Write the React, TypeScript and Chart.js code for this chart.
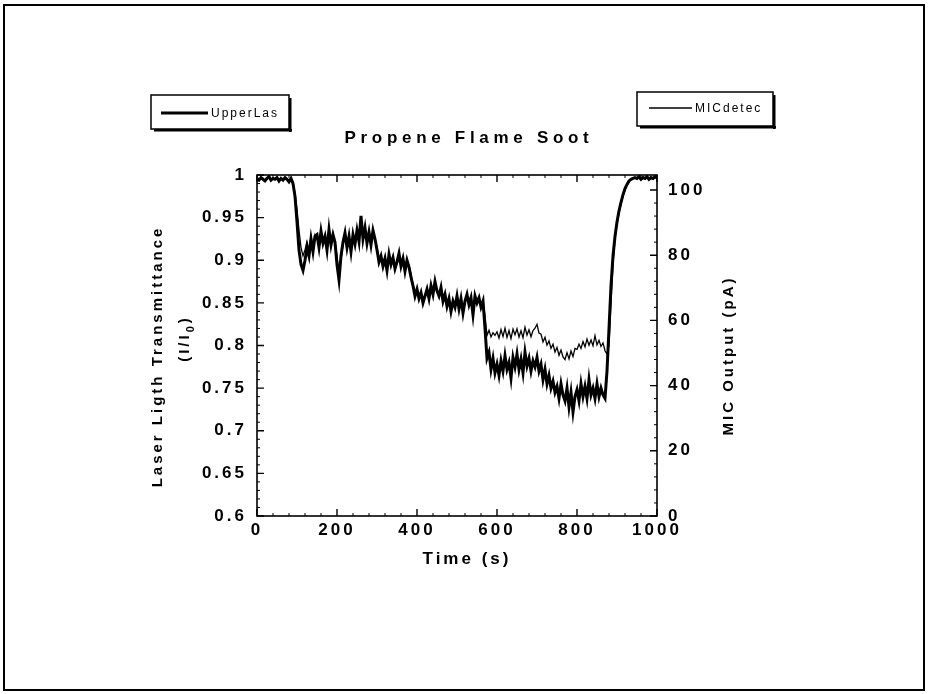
import { useEffect, useRef } from 'react';
import { Chart, registerables } from 'chart.js';

Chart.register(...registerables);

// ---------- data ----------
const SAMPLE_STEP_S = 5;

// Laser light transmittance I/I0 (left axis), one value every 5 s from 0 to 1000 s
const upperLas = [
  0.996, 0.994, 0.997, 0.995, 0.993, 0.996, 0.998, 0.994, 0.996, 0.995,
  0.997, 0.993, 0.996, 0.994, 0.997, 0.995, 0.992, 0.996, 0.990, 0.975,
  0.945, 0.912, 0.895, 0.888, 0.900, 0.915, 0.905, 0.925, 0.910, 0.928,
  0.930, 0.915, 0.934, 0.920, 0.928, 0.912, 0.936, 0.918, 0.930, 0.921,
  0.895, 0.877, 0.905, 0.921, 0.932, 0.915, 0.928, 0.910, 0.930, 0.919,
  0.935, 0.922, 0.952, 0.925, 0.938, 0.920, 0.933, 0.918, 0.935, 0.925,
  0.912, 0.898, 0.905, 0.893, 0.902, 0.888, 0.907, 0.895, 0.903, 0.890,
  0.898, 0.908, 0.893, 0.902, 0.887, 0.900, 0.892, 0.880, 0.870, 0.858,
  0.866, 0.855, 0.862, 0.850, 0.858, 0.866, 0.855, 0.870, 0.860, 0.875,
  0.864, 0.858, 0.868, 0.852, 0.860, 0.846, 0.855, 0.840, 0.852, 0.845,
  0.858, 0.843, 0.855, 0.838, 0.852, 0.860, 0.848, 0.856, 0.836, 0.858,
  0.850, 0.856, 0.845, 0.852, 0.820, 0.785, 0.792, 0.772, 0.785, 0.768,
  0.778, 0.765, 0.782, 0.770, 0.788, 0.772, 0.780, 0.762, 0.786, 0.775,
  0.790, 0.772, 0.784, 0.768, 0.792, 0.776, 0.785, 0.770, 0.782, 0.775,
  0.786, 0.770, 0.778, 0.760, 0.772, 0.755, 0.765, 0.750, 0.758, 0.745,
  0.752, 0.738, 0.755, 0.742, 0.735, 0.750, 0.728, 0.745, 0.722, 0.740,
  0.748, 0.735, 0.755, 0.740, 0.752, 0.738, 0.760, 0.742, 0.750, 0.738,
  0.755, 0.740, 0.750, 0.742, 0.738, 0.770, 0.820, 0.870, 0.905, 0.928,
  0.945, 0.958, 0.968, 0.977, 0.984, 0.989, 0.993, 0.995, 0.996, 0.997,
  0.996, 0.998, 0.995, 0.997, 0.996, 0.998, 0.995, 0.997, 0.996, 0.998, 0.997,
];

// MIC detector output in pA (right axis), same sampling
const micDetec = [
  103.5, 103.0, 103.8, 103.2, 102.8, 103.6, 103.9, 103.1, 103.5, 103.3,
  103.7, 102.9, 103.4, 103.1, 103.8, 103.3, 102.7, 103.5, 102.5, 99.0,
  94.1, 87.6, 82.4, 79.8, 81.6, 84.2, 81.6, 85.8, 82.4, 86.3,
  85.0, 83.2, 86.8, 84.2, 85.3, 82.4, 87.1, 83.7, 85.8, 84.2,
  79.8, 74.5, 78.5, 83.2, 85.8, 83.2, 85.0, 82.1, 85.8, 83.9,
  86.8, 84.7, 90.2, 85.8, 87.6, 84.2, 86.3, 83.7, 86.8, 85.3,
  82.4, 79.0, 79.2, 77.4, 78.5, 76.4, 79.5, 77.7, 78.5, 76.6,
  77.4, 79.5, 77.4, 78.5, 75.8, 77.9, 76.9, 74.3, 71.1, 68.5,
  69.0, 67.5, 68.0, 66.2, 67.2, 68.8, 67.2, 69.8, 68.5, 71.1,
  69.6, 68.0, 69.3, 66.7, 67.5, 65.1, 66.2, 63.8, 65.4, 64.6,
  66.7, 64.3, 65.9, 63.3, 65.4, 67.2, 65.4, 66.4, 62.8, 66.7,
  66.2, 66.7, 64.9, 66.2, 61.5, 55.4, 57.0, 54.9, 56.2, 55.4,
  56.5, 54.6, 57.2, 55.1, 57.6, 54.8, 56.9, 54.4, 57.3, 55.6,
  57.4, 54.9, 56.8, 54.7, 57.9, 55.5, 57.1, 55.0, 56.9, 57.6,
  58.8, 56.1, 55.8, 53.4, 54.8, 52.4, 53.7, 51.4, 52.7, 50.3,
  51.7, 49.3, 50.9, 48.8, 48.0, 50.1, 48.2, 50.6, 48.9, 51.4,
  51.1, 52.7, 51.4, 53.5, 51.9, 54.3, 52.4, 54.0, 52.2, 55.3,
  52.5, 53.9, 52.0, 53.1, 50.7, 49.7, 52.3, 65.4, 77.1, 85.0,
  89.4, 92.8, 95.7, 98.1, 99.9, 101.5, 102.5, 103.3, 103.6, 103.8,
  103.5, 103.9, 103.2, 103.7, 103.4, 103.9, 103.2, 103.6, 103.4, 103.8, 103.6,
];

const times = upperLas.map((_, i) => i * SAMPLE_STEP_S);

const timeTicks = [0, 200, 400, 600, 800, 1000];
const transmittanceTicks = [0.6, 0.65, 0.7, 0.75, 0.8, 0.85, 0.9, 0.95, 1];
const micTicks = [0, 20, 40, 60, 80, 100];
const micAxisMax = 104.6;

const chartTitle = 'Propene Flame Soot';
const xTitle = 'Time (s)';
const yLeftTitle = 'Laser Ligth Transmittance';
const yLeftTitle2 = ['(I/I', '0', ')'];
const yRightTitle = 'MIC Output (pA)';
const seriesLabels = ['UpperLas', 'MICdetec'];

// ---------- styling ----------
const FONT = '"Liberation Sans", Arial, Helvetica, sans-serif';
const W = 928;
const H = 694;
const AREA = { left: 257, right: 657, top: 175, bottom: 516 };

function setLS(ctx: any, v: string) {
  ctx.letterSpacing = v;
}

function drawRotated(ctx: CanvasRenderingContext2D, text: string, x: number, y: number, rot: number, font: string) {
  ctx.save();
  ctx.translate(x, y);
  ctx.rotate(rot);
  ctx.font = font;
  ctx.textAlign = 'center';
  ctx.textBaseline = 'middle';
  ctx.fillText(text, 0, 0);
  ctx.restore();
}

function drawLegendBox(ctx: CanvasRenderingContext2D, box: { x: number; y: number; w: number; h: number }, lineX0: number, lineX1: number, lineY: number, lw: number, label: string) {
  ctx.save();
  ctx.fillStyle = '#fff';
  ctx.fillRect(box.x, box.y, box.w, box.h);
  ctx.strokeStyle = '#000';
  ctx.lineWidth = 1.5;
  ctx.strokeRect(box.x, box.y, box.w, box.h);
  ctx.fillStyle = '#000';
  ctx.fillRect(box.x + 3, box.y + box.h, box.w, 2.5);
  ctx.fillRect(box.x + box.w, box.y + 3, 2.5, box.h);
  ctx.lineWidth = lw;
  ctx.beginPath();
  ctx.moveTo(lineX0, lineY);
  ctx.lineTo(lineX1, lineY);
  ctx.stroke();
  setLS(ctx, '2px');
  ctx.font = `12px ${FONT}`;
  ctx.textAlign = 'left';
  ctx.textBaseline = 'middle';
  ctx.fillText(label, lineX1 + 3, lineY + 0.5);
  ctx.restore();
}

const decorPlugin = {
  id: 'decor',
  beforeDraw(chart: any) {
    const ctx = chart.ctx;
    ctx.save();
    ctx.fillStyle = '#fff';
    ctx.fillRect(0, 0, chart.width, chart.height);
    ctx.restore();
    setLS(ctx, '3px');
  },
  afterDraw(chart: any) {
    const ctx: CanvasRenderingContext2D = chart.ctx;
    const a = chart.chartArea;
    const sx = chart.scales.x;
    const sy = chart.scales.y;
    const sy2 = chart.scales.y2;
    ctx.save();
    ctx.strokeStyle = '#000';
    ctx.fillStyle = '#000';

    // outer page frame
    ctx.lineWidth = 2;
    ctx.strokeRect(4, 5, 920, 685);

    // plot frame
    ctx.lineWidth = 1.6;
    ctx.strokeRect(a.left, a.top, a.right - a.left, a.bottom - a.top);

    // major + minor inward ticks
    const MAJOR = 7;
    const MINOR = 3;
    const minorVals = (vals: number[], n: number) => {
      const out: number[] = [];
      for (let i = 0; i < vals.length - 1; i++) {
        for (let k = 1; k < n; k++) out.push(vals[i] + ((vals[i + 1] - vals[i]) * k) / n);
      }
      return out;
    };
    const xv = sx.ticks.map((t: any) => t.value);
    const yv = sy.ticks.map((t: any) => t.value);
    const y2v = sy2.ticks.map((t: any) => t.value);

    ctx.lineWidth = 1.4;
    ctx.beginPath();
    xv.forEach((v: number) => {
      const p = sx.getPixelForValue(v);
      ctx.moveTo(p, a.bottom); ctx.lineTo(p, a.bottom - MAJOR);
      ctx.moveTo(p, a.top); ctx.lineTo(p, a.top + MAJOR);
    });
    yv.forEach((v: number) => {
      const p = sy.getPixelForValue(v);
      ctx.moveTo(a.left, p); ctx.lineTo(a.left + MAJOR, p);
    });
    y2v.forEach((v: number) => {
      const p = sy2.getPixelForValue(v);
      ctx.moveTo(a.right, p); ctx.lineTo(a.right - MAJOR, p);
    });
    ctx.stroke();

    ctx.lineWidth = 1;
    ctx.beginPath();
    minorVals(xv, 5).forEach((v) => {
      const p = sx.getPixelForValue(v);
      ctx.moveTo(p, a.bottom); ctx.lineTo(p, a.bottom - MINOR);
      ctx.moveTo(p, a.top); ctx.lineTo(p, a.top + MINOR);
    });
    minorVals(yv, 5).forEach((v) => {
      const p = sy.getPixelForValue(v);
      ctx.moveTo(a.left, p); ctx.lineTo(a.left + MINOR, p);
    });
    [...minorVals(y2v, 5), 104].forEach((v) => {
      const p = sy2.getPixelForValue(v);
      ctx.moveTo(a.right, p); ctx.lineTo(a.right - MINOR, p);
    });
    ctx.stroke();

    // chart title
    setLS(ctx, '4.7px');
    ctx.font = `bold 17px ${FONT}`;
    ctx.textAlign = 'center';
    ctx.textBaseline = 'middle';
    ctx.fillText(chartTitle, 469, 138);

    // axis titles
    setLS(ctx, '3px');
    const mid = (a.top + a.bottom) / 2;
    ctx.font = `bold 17px ${FONT}`;
    ctx.textAlign = 'center';
    ctx.fillText(xTitle, (a.left + a.right) / 2 + 10, a.bottom + 43);

    const tf = `bold 15px ${FONT}`;
    drawRotated(ctx, yLeftTitle, a.left - 99, mid + 11, -Math.PI / 2, tf);
    drawRotated(ctx, yRightTitle, a.right + 72, mid + 10, -Math.PI / 2, tf);

    // (I/I0) with subscript
    ctx.save();
    ctx.translate(a.left - 72, mid - 7);
    ctx.rotate(-Math.PI / 2);
    ctx.textBaseline = 'middle';
    ctx.textAlign = 'left';
    ctx.font = tf;
    const w1 = ctx.measureText(yLeftTitle2[0]).width;
    const w3 = ctx.measureText(yLeftTitle2[2]).width;
    ctx.font = `bold 11px ${FONT}`;
    const w2 = ctx.measureText(yLeftTitle2[1]).width;
    let cx = -(w1 + w2 + w3) / 2;
    ctx.font = tf;
    ctx.fillText(yLeftTitle2[0], cx, 0);
    cx += w1;
    ctx.font = `bold 11px ${FONT}`;
    ctx.fillText(yLeftTitle2[1], cx, 6);
    cx += w2;
    ctx.font = tf;
    ctx.fillText(yLeftTitle2[2], cx, 0);
    ctx.restore();

    // legends (one box per dataset)
    const ds = chart.data.datasets;
    drawLegendBox(ctx, { x: 151, y: 95, w: 138, h: 34 }, 161, 208, 113, ds[0].borderWidth, ds[0].label);
    drawLegendBox(ctx, { x: 637, y: 92, w: 136, h: 34 }, 649, 692, 108, ds[1].borderWidth, ds[1].label);

    ctx.restore();
  },
};

export default function App() {
  const ref = useRef<HTMLCanvasElement>(null);

  useEffect(() => {
    if (!ref.current) return;
    const tickFont = { family: FONT, size: 17, weight: 'bold' as const };
    const chart = new Chart(ref.current, {
      type: 'line',
      data: {
        datasets: [
          {
            label: seriesLabels[0],
            data: upperLas.map((v, i) => ({ x: times[i], y: v })),
            yAxisID: 'y',
            borderColor: '#000',
            borderWidth: 3,
            pointRadius: 0,
            tension: 0,
          },
          {
            label: seriesLabels[1],
            data: micDetec.map((v, i) => ({ x: times[i], y: v })),
            yAxisID: 'y2',
            borderColor: '#000',
            borderWidth: 1.3,
            pointRadius: 0,
            tension: 0,
          },
        ],
      },
      options: {
        animation: false,
        responsive: false,
        events: [],
        layout: { padding: { top: AREA.top, left: 0, right: 0, bottom: 0 } },
        plugins: {
          legend: { display: false },
          title: { display: false },
          tooltip: { enabled: false },
        },
        scales: {
          x: {
            type: 'linear',
            position: 'bottom',
            min: 0,
            max: 1000,
            afterBuildTicks: (s: any) => { s.ticks = timeTicks.map((value) => ({ value })); },
            afterFit: (s: any) => { s.height = H - AREA.bottom; },
            grid: { display: false, drawTicks: false },
            border: { display: false },
            ticks: {
              autoSkip: false,
              maxRotation: 0,
              padding: 4,
              color: '#000',
              font: tickFont,
              callback: (v: any) => String(v),
            },
          },
          y: {
            type: 'linear',
            position: 'left',
            min: 0.6,
            max: 1,
            afterBuildTicks: (s: any) => { s.ticks = transmittanceTicks.map((value) => ({ value })); },
            afterFit: (s: any) => { s.width = AREA.left; },
            grid: { display: false, drawTicks: false },
            border: { display: false },
            ticks: {
              padding: 10,
              color: '#000',
              font: tickFont,
              callback: (v: any) => String(v),
            },
          },
          y2: {
            type: 'linear',
            position: 'right',
            min: 0,
            max: micAxisMax,
            afterBuildTicks: (s: any) => { s.ticks = micTicks.map((value) => ({ value })); },
            afterFit: (s: any) => { s.width = W - AREA.right; },
            grid: { display: false, drawTicks: false },
            border: { display: false },
            ticks: {
              padding: 11,
              color: '#000',
              font: tickFont,
              callback: (v: any) => String(v),
            },
          },
        },
      },
      plugins: [decorPlugin],
    });
    return () => chart.destroy();
  }, []);

  return (
    <div style={{ position: 'absolute', left: 0, top: 0, width: W, height: H, background: '#fff' }}>
      <canvas ref={ref} width={W} height={H} style={{ display: 'block' }} />
    </div>
  );
}
